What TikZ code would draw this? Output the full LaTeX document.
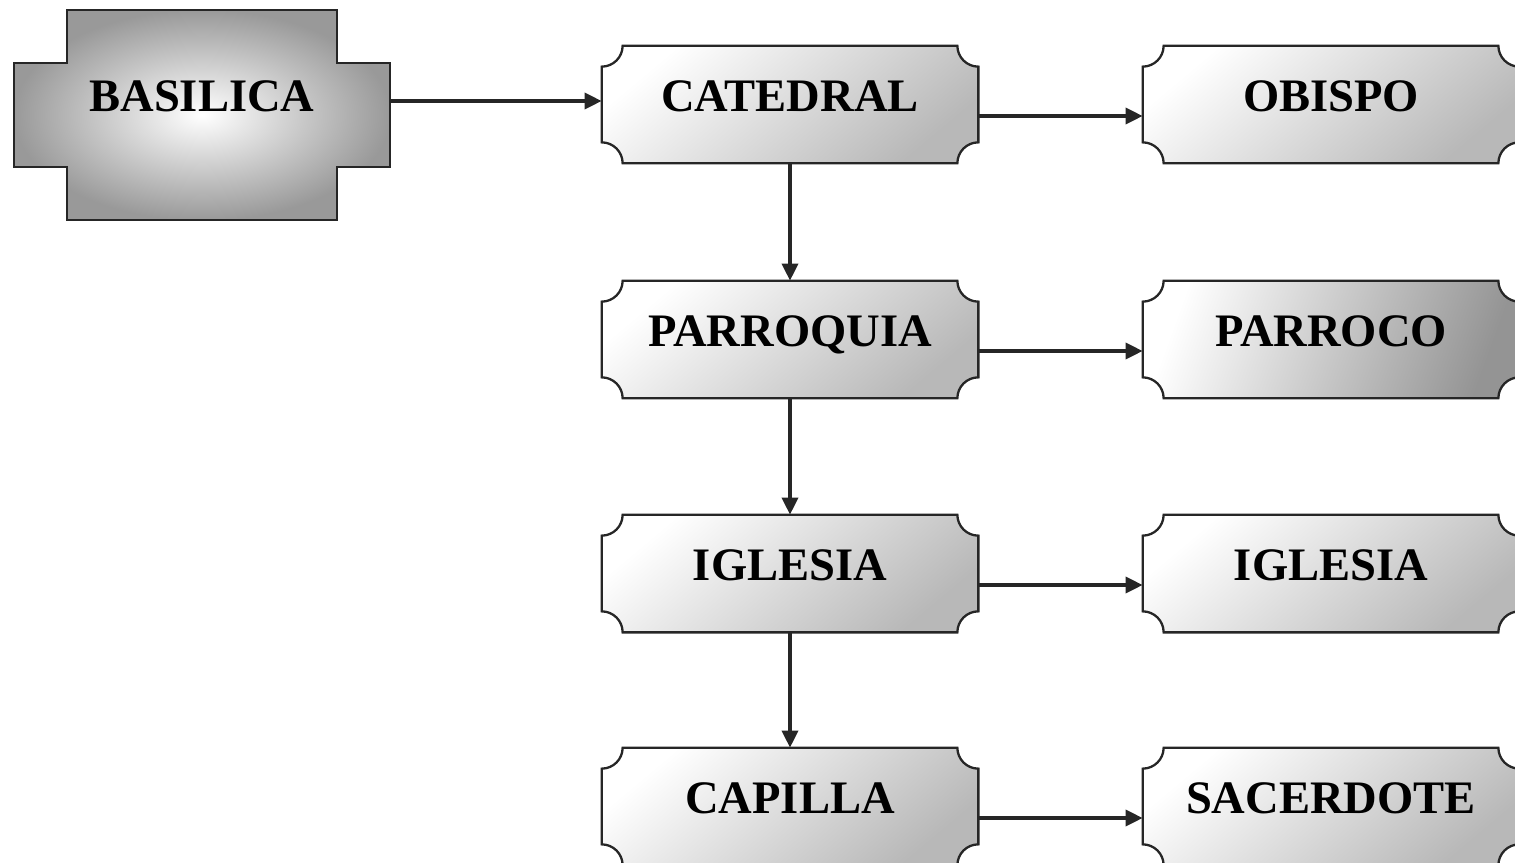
\documentclass[tikz,border=0pt]{standalone}
\usepackage{fontspec}
\setmainfont{Liberation Serif}
\usetikzlibrary{arrows.meta,backgrounds}

\newcommand{\pr}{0.42cm}
\newcommand{\nk}{1.06cm}
% plaque outline with hollow corners, taken from the node's rectangle
\newcommand{\plaquepath}[1]{([xshift=\pr]#1.north west) -- ([xshift=-\pr]#1.north east)
 arc[start angle=180,end angle=270,radius=\pr] -- ([yshift=\pr]#1.south east)
 arc[start angle=90,end angle=180,radius=\pr] -- ([xshift=\pr]#1.south west)
 arc[start angle=0,end angle=90,radius=\pr] -- ([yshift=-\pr]#1.north west)
 arc[start angle=270,end angle=360,radius=\pr] -- cycle}

\begin{document}
\begin{tikzpicture}[
font=\bfseries\fontsize{26.5}{30}\selectfont,
flow/.style={-{Triangle[length=3.4mm,width=3.2mm]},line width=2pt,black!85},
place/.style={minimum width=7.52cm,minimum height=2.34cm,inner sep=0pt,text height=0.7cm,text depth=0.44cm},
rim/.style={draw=black!85,line width=1.3pt},
paper/.style={top color=white,bottom color=black!28,shading angle=40}
]
\useasboundingbox (0,0) rectangle (30.3,-17.26);

\node[place,minimum height=4.2cm,text depth=0.84cm] (basilica) at (4.04,-2.3) {BASILICA};
\node[place] (catedral) at (15.8,-2.09) {CATEDRAL};
\node[place] (parroquia) at (15.8,-6.79) {PARROQUIA};
\node[place] (iglesia) at (15.8,-11.47) {IGLESIA};
\node[place] (capilla) at (15.8,-16.13) {CAPILLA};
\node[place] (obispo) at (26.62,-2.09) {OBISPO};
\node[place] (parroco) at (26.62,-6.79) {PARROCO};
\node[place] (iglesiab) at (26.62,-11.47) {IGLESIA};
\node[place] (sacerdote) at (26.62,-16.13) {SACERDOTE};

\begin{scope}[on background layer]
\foreach \n in {catedral,parroquia,iglesia,capilla,obispo,iglesiab,sacerdote}
 \draw[rim,paper] \plaquepath{\n};
\draw[rim,top color=white,bottom color=black!42,shading angle=70] \plaquepath{parroco};
\draw[rim,inner color=white,outer color=black!40]
 ([xshift=\nk]basilica.north west) -- ([xshift=-\nk]basilica.north east)
 -- ([xshift=-\nk,yshift=-\nk]basilica.north east) -- ([yshift=-\nk]basilica.north east)
 -- ([yshift=\nk]basilica.south east) -- ([xshift=-\nk,yshift=\nk]basilica.south east)
 -- ([xshift=-\nk]basilica.south east) -- ([xshift=\nk]basilica.south west)
 -- ([xshift=\nk,yshift=\nk]basilica.south west) -- ([yshift=\nk]basilica.south west)
 -- ([yshift=-\nk]basilica.north west) -- ([xshift=\nk,yshift=-\nk]basilica.north west)
 -- cycle;
\end{scope}

\draw[flow] ([yshift=0.28cm]basilica.east) -- ([yshift=0.07cm]catedral.west);
\foreach \a/\b in {catedral/parroquia,parroquia/iglesia,iglesia/capilla}
 \draw[flow] (\a) -- (\b);
\foreach \a/\b in {catedral/obispo,parroquia/parroco,iglesia/iglesiab,capilla/sacerdote}
 \draw[flow] ([yshift=-0.23cm]\a.east) -- ([yshift=-0.23cm]\b.west);
\end{tikzpicture}
\end{document}
